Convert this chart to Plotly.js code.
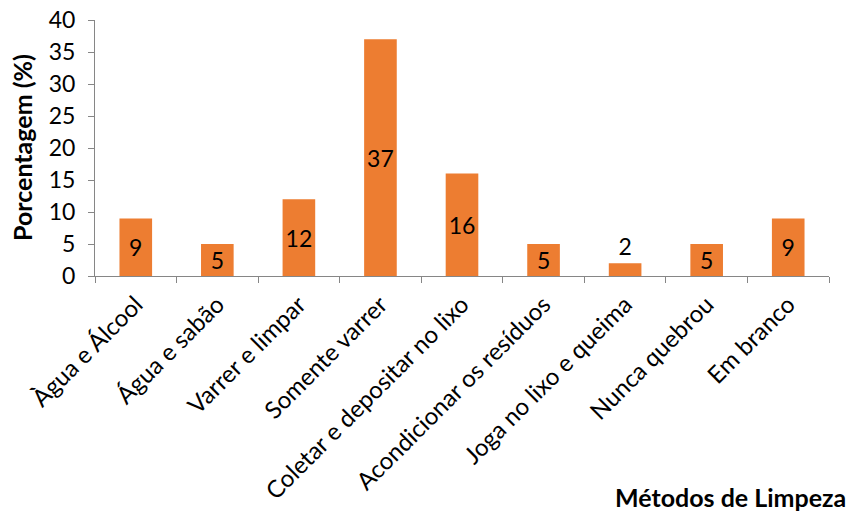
<!DOCTYPE html>
<html><head><meta charset="utf-8">
<script src="https://cdn.plot.ly/plotly-3.0.1.min.js"></script>
<style>body{margin:0;background:#fff}#c{width:851px;height:517px}</style>
</head><body><div id="c"></div>
<script>
const categories = ["Àgua e Álcool","Água e sabão","Varrer e limpar","Somente varrer","Coletar e depositar no lixo","Acondicionar os resíduos","Joga no lixo e queima","Nunca quebrou","Em branco"];
const values = [9,5,12,37,16,5,2,5,9];
const yTicks = [0,5,10,15,20,25,30,35,40];
const FONT = "Lato, 'Open Sans', sans-serif";
const trace = {
  type:'bar', x:categories, y:values,
  marker:{color:'#ED7D31', line:{color:'#ffffff', width:0}},
  text: values.map(String),
  textposition: values.map(v => v < 3 ? 'outside' : 'inside'),
  insidetextanchor:'middle',
  textangle:0,
  constraintext:'none',
  textfont:{family:FONT, size:23, color:'#000'},
  outsidetextfont:{family:FONT, size:23, color:'#000'},
  insidetextfont:{family:FONT, size:23, color:'#000'},
  cliponaxis:false,
  hoverinfo:'none'
};
const layout = {
  width:851, height:517,
  margin:{l:95, r:22, t:20, b:241},
  paper_bgcolor:'#fff', plot_bgcolor:'#fff',
  bargap:0.6,
  showlegend:false,
  font:{family:FONT, size:24, color:'#000'},
  xaxis:{
    type:'category', tickangle:-45, showline:true, linecolor:'#868686', linewidth:1,
    ticks:'outside', ticklen:6, tickcolor:'#868686', tickson:'boundaries',
    ticklabelstandoff:4,
    showgrid:false, zeroline:false, tickfont:{family:FONT, size:24, color:'#000'}
  },
  yaxis:{
    range:[0,40], tickvals:yTicks, ticktext:yTicks.map(String),
    showline:true, linecolor:'#868686', linewidth:1, ticks:'outside', ticklen:6, tickcolor:'#868686',
    ticklabelstandoff:8,
    showgrid:false, zeroline:false, tickfont:{family:FONT, size:23, color:'#000'}
  },
  annotations:[
    {text:'<b>Porcentagem (%)</b>', xref:'paper', yref:'paper', x:0, y:0.5, xanchor:'center', yanchor:'middle',
     textangle:-90, showarrow:false, font:{family:FONT, size:25, color:'#000'}, xshift:-73},
    {text:'<b>Métodos de Limpeza</b>', xref:'paper', yref:'paper', x:1, y:0, xanchor:'right', yanchor:'middle',
     showarrow:false, font:{family:FONT, size:25, color:'#000'}, yshift:-221, xshift:19}
  ]
};
Plotly.newPlot('c',[trace],layout,{staticPlot:true, displayModeBar:false});
</script></body></html>
